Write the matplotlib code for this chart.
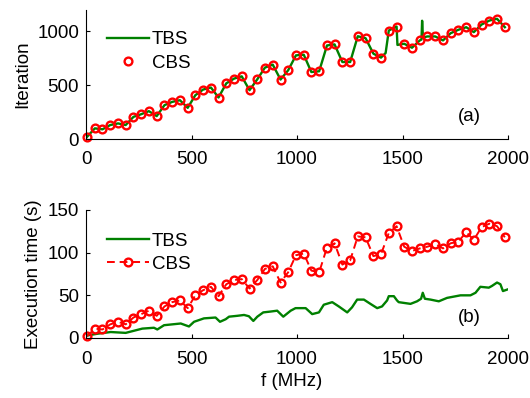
import numpy as np
import matplotlib
matplotlib.use("Agg")
import matplotlib.pyplot as plt

plt.rcParams['font.family'] = ['Liberation Sans', 'DejaVu Sans']

# CBS sample frequencies (MHz)
freq = [5, 42, 78, 115, 152, 188, 225, 262, 298, 335, 372, 408, 445, 482, 518,
        555, 592, 628, 665, 702, 738, 775, 812, 848, 885, 922, 958, 995, 1032,
        1068, 1105, 1142, 1178, 1215, 1252, 1288, 1325, 1362, 1398, 1435, 1472,
        1508, 1545, 1582, 1618, 1655, 1692, 1728, 1765, 1802, 1838, 1875, 1912,
        1948, 1985]

# (a) iterations
cbs_iter = [20, 99, 90, 130, 145, 130, 206, 231, 259, 213, 315, 345, 361, 290,
            407, 460, 479, 386, 518, 562, 583, 454, 556, 664, 692, 553, 639,
            778, 784, 623, 630, 870, 880, 716, 716, 956, 938, 794, 757, 1009,
            1046, 886, 849, 917, 954, 954, 917, 984, 1016, 1040, 994, 1065,
            1102, 1118, 1040]

tbs_iter_f = [5, 42, 78, 115, 152, 188, 225, 262, 298, 335, 372, 408, 445, 482,
              518, 555, 592, 628, 665, 702, 738, 775, 812, 848, 885, 922, 958,
              995, 1032, 1068, 1105, 1142, 1178, 1215, 1252, 1288, 1325, 1362,
              1398, 1420, 1435, 1472, 1476, 1508, 1545, 1582, 1590, 1593, 1597,
              1618, 1655, 1692, 1728, 1765, 1802, 1838, 1875, 1912, 1948, 1985]
tbs_iter = [20, 99, 90, 130, 145, 130, 206, 231, 259, 213, 315, 345, 361, 290,
            407, 460, 479, 386, 518, 562, 583, 454, 556, 664, 692, 553, 639,
            778, 784, 623, 630, 870, 880, 716, 716, 956, 938, 794, 757, 800,
            1009, 1046, 875, 886, 849, 917, 925, 1100, 945, 954, 954, 917, 984,
            1016, 1040, 994, 1065, 1102, 1118, 1040]

# (b) execution time (s)
cbs_time = [2, 11, 10, 16, 19, 16, 24, 28, 32, 26, 37, 42, 44, 35, 50, 56, 60,
            49, 63, 68, 69, 58, 68, 81, 84, 65, 77, 97, 99, 79, 77, 106, 111,
            86, 91, 119, 118, 96, 98, 123, 131, 107, 102, 105, 107, 110, 105,
            111, 113, 124, 115, 130, 134, 131, 118]

tbs_time_f = [7, 54, 117, 188, 267, 322, 338, 370, 449, 488, 512, 559, 614,
              635, 662, 678, 717, 749, 772, 793, 812, 840, 875, 906, 935, 970,
              993, 1041, 1072, 1104, 1127, 1167, 1198, 1238, 1261, 1285, 1317,
              1348, 1380, 1403, 1427, 1435, 1459, 1474, 1482, 1538, 1569, 1588,
              1596, 1606, 1633, 1672, 1711, 1775, 1822, 1846, 1869, 1909, 1924,
              1948, 1964, 1976, 1999]
tbs_time = [3, 5, 7, 6, 11, 12, 10, 15, 17, 13.5, 19, 23, 24, 19, 22, 25, 26,
            27, 25.5, 20, 25, 30, 31, 32, 25, 32, 35, 35, 28, 30, 39, 42, 37,
            30, 36, 45, 45, 40, 35, 37, 44, 49, 49, 44, 42, 40, 43, 46, 53, 46,
            45, 43, 47, 50, 50, 53, 60, 59, 61, 65, 63, 55, 57]

green = (0, 0.5, 0)
fs = 13.5

fig = plt.figure(figsize=(5.3, 3.98), dpi=100)
ax1 = fig.add_axes([86/530, 1 - 139/398, 422/530, 129/398])
ax2 = fig.add_axes([86/530, 1 - 338/398, 422/530, 128/398])

ax1.plot(tbs_iter_f, tbs_iter, color=green, lw=1.7, label='TBS')
ax1.plot(freq, cbs_iter, 'o', color='red', mfc='none', ms=5.6, mew=1.7,
         label='CBS', clip_on=False)

ax2.plot(tbs_time_f, tbs_time, color=green, lw=1.7, label='TBS')
ax2.plot(freq, cbs_time, color='red', ls=(0, (4, 2.5)), lw=1.4, marker='o',
         mfc='none', ms=5.6, mew=1.7, label='CBS', clip_on=False)

for ax, top in ((ax1, 0.835), (ax2, 0.825)):
    ax.set_xlim(0, 2000)
    ax.set_xticks([0, 500, 1000, 1500, 2000])
    ax.spines['top'].set_visible(False)
    ax.spines['right'].set_visible(False)
    for s in ('left', 'bottom'):
        ax.spines[s].set_linewidth(0.8)
    ax.tick_params(direction='in', length=3, width=0.8, labelsize=fs)
    ax.tick_params(axis='x', pad=9)
    ax.tick_params(axis='y', pad=5)
    ax.legend(loc='upper left', bbox_to_anchor=(0.049, top), frameon=False,
              fontsize=fs, borderpad=0, borderaxespad=0, handlelength=2.26,
              handletextpad=0.16, labelspacing=0.33)

ax1.set_ylim(0, 1200)
ax1.set_yticks([0, 500, 1000])
ax1.set_ylabel('Iteration', fontsize=fs)
ax1.yaxis.set_label_coords(-0.130, 0.5)
ax1.text(1816, 213, '(a)', ha='center', va='center', fontsize=fs)

ax2.set_ylim(0, 150)
ax2.set_yticks([0, 50, 100, 150])
ax2.set_ylabel('Execution time (s)', fontsize=fs)
ax2.yaxis.set_label_coords(-0.104, 0.5)
ax2.set_xlabel('f (MHz)', fontsize=fs)
ax2.xaxis.set_label_coords(0.488, -0.275)
ax2.text(1816, 24, '(b)', ha='center', va='center', fontsize=fs)

fig.savefig('out.png', dpi=100)
